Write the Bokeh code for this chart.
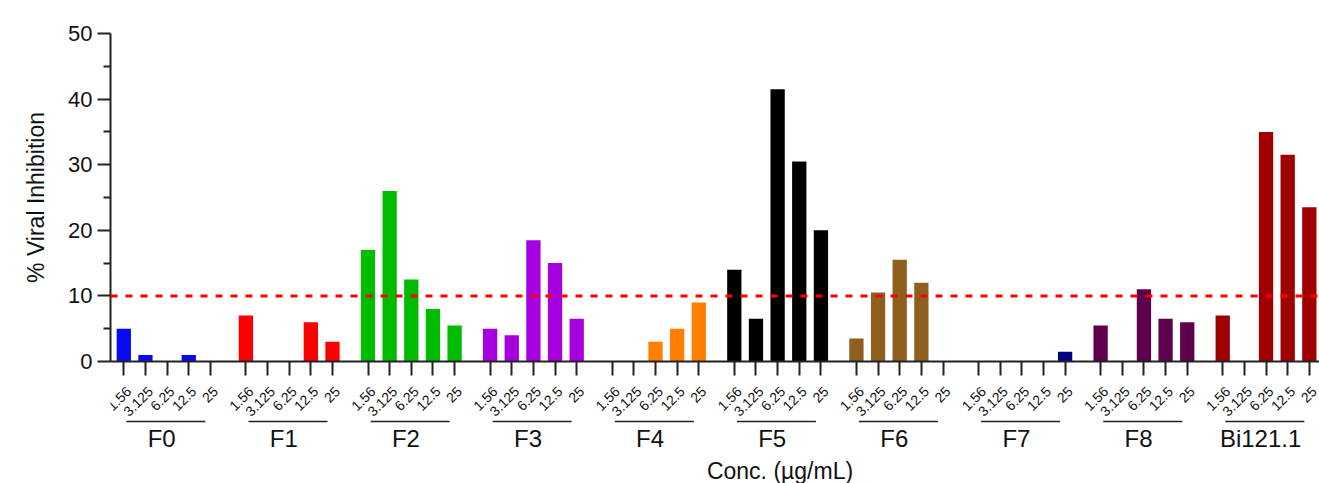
import math
from bokeh.plotting import figure
from bokeh.layouts import column
from bokeh.models import FixedTicker, Span, Range1d, ColumnDataSource
from bokeh.core.properties import value
from bokeh.embed import file_html
from bokeh.resources import INLINE

# ---------------- data ----------------
groups = ["F0", "F1", "F2", "F3", "F4", "F5", "F6", "F7", "F8", "Bi121.1"]
concs = ["1.56", "3.125", "6.25", "12.5", "25"]

F0 = [5, 1, 0, 1, 0]
F1 = [7, 0, 0, 6, 3]
F2 = [17, 26, 12.5, 8, 5.5]
F3 = [5, 4, 18.5, 15, 6.5]
F4 = [0, 0, 3, 5, 9]
F5 = [14, 6.5, 41.5, 30.5, 20]
F6 = [3.5, 10.5, 15.5, 12, 0]
F7 = [0, 0, 0, 0, 1.5]
F8 = [5.5, 0, 11, 6.5, 6]
Bi121_1 = [7, 0, 35, 31.5, 23.5]
values = [F0, F1, F2, F3, F4, F5, F6, F7, F8, Bi121_1]

colors = ["#0a0af2", "#ff0000", "#00bb00", "#a600e0", "#ff8000",
          "#000000", "#8f5f20", "#000080", "#5f004c", "#a00000"]
threshold = 10
y_ticks = [0, 10, 20, 30, 40, 50]
y_minor = [5, 15, 25, 35, 45]
x_title = "Conc. (\u00b5g/mL)"

# ---------------- layout helpers ----------------
STEP = 100          # distance between bars inside a group
GROUP_STEP = 564    # distance between group starts
FONT = "Liberation Sans"
INK = "#111111"
AXIS = "#222222"

xs, tops, cols, tick_text = [], [], [], []
for gi, (vals, col) in enumerate(zip(values, colors)):
    for ci, (conc, v) in enumerate(zip(concs, vals)):
        xs.append(gi * GROUP_STEP + ci * STEP)
        tops.append(v)
        cols.append(col)
        tick_text.append(conc)

src = ColumnDataSource(dict(x=xs, top=tops, color=cols))

W = 1319
TOP_H = 376
x_range = Range1d(-61.4, 5523)

p = figure(width=W, height=TOP_H, x_range=x_range, y_range=Range1d(0, 50),
           output_backend="svg", toolbar_location=None,
           min_border_left=110, min_border_right=0,
           min_border_top=33, min_border_bottom=15)
p.outline_line_color = None
p.grid.visible = False

p.vbar(x="x", top="top", width=66, fill_color="color", line_color=None, source=src)

p.add_layout(Span(location=threshold, dimension="width", line_color="#ff0000",
                  line_width=3, line_dash="7 8"))

xa = p.xaxis[0]
xa.ticker = FixedTicker(ticks=xs)
xa.major_label_text_font_size = "0px"
xa.major_label_text_color = None
xa.major_label_standoff = 0
xa.major_tick_out = 14
xa.major_tick_in = 0
xa.major_tick_line_width = 2
xa.major_tick_line_color = AXIS
xa.minor_tick_line_color = None
xa.axis_line_width = 2
xa.axis_line_color = AXIS

ya = p.yaxis[0]
ya.ticker = FixedTicker(ticks=y_ticks, minor_ticks=y_minor)
ya.major_label_text_font = FONT
ya.major_label_text_font_size = "22px"
ya.major_label_text_color = INK
ya.major_label_standoff = 5
ya.major_tick_out = 13
ya.major_tick_in = 0
ya.minor_tick_out = 7
ya.minor_tick_in = 0
ya.major_tick_line_width = 2
ya.minor_tick_line_width = 2
ya.major_tick_line_color = AXIS
ya.minor_tick_line_color = AXIS
ya.axis_line_width = 2
ya.axis_line_color = AXIS
ya.axis_label = "% Viral Inhibition"
ya.axis_label_text_font = FONT
ya.axis_label_text_font_size = "23px"
ya.axis_label_text_font_style = "normal"
ya.axis_label_text_color = INK
ya.axis_label_standoff = 16

# ---------------- tick labels / group labels panel ----------------
BOT_H = 483 - TOP_H
q = figure(width=W, height=BOT_H, x_range=x_range, y_range=Range1d(BOT_H, 0),
           output_backend="svg", toolbar_location=None,
           x_axis_location=None, y_axis_location=None,
           min_border_left=110, min_border_right=0,
           min_border_top=0, min_border_bottom=0)
q.outline_line_color = None
q.grid.visible = False

# rotated concentration labels, ending just right of each tick
q.text(x=[x + 23 for x in xs], y=[12.5] * len(xs), text=tick_text,
       angle=math.pi / 4, text_align="right", text_baseline="middle",
       text_font=value(FONT), text_font_size="14px", text_color=INK)

n = len(groups)
g0 = [gi * GROUP_STEP + 12 for gi in range(n)]
g1 = [gi * GROUP_STEP + 377 for gi in range(n)]
gc = [gi * GROUP_STEP + 175 for gi in range(n)]
q.segment(x0=g0, x1=g1, y0=[45] * n, y1=[45] * n,
          line_color=AXIS, line_width=1.5)
q.text(x=gc, y=[62] * n, text=groups, text_align="center",
       text_baseline="middle", text_font=value(FONT),
       text_font_size="24px", text_color=INK)
q.text(x=[3031], y=[94], text=[x_title], text_align="center",
       text_baseline="middle", text_font=value(FONT),
       text_font_size="23px", text_color=INK)

layout = column(p, q, spacing=0)
open("out.html", "w").write(file_html(layout, INLINE))
